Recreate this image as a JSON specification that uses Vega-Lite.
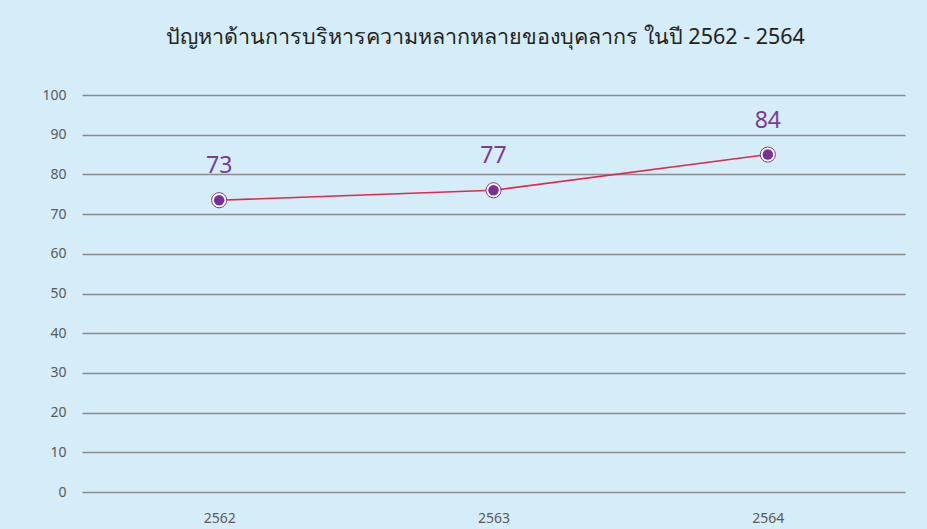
{
  "$schema": "https://vega.github.io/schema/vega-lite/v6.json",
  "autosize": "none",
  "width": 823,
  "height": 397,
  "padding": {"left": 82, "top": 95, "right": 22, "bottom": 37},
  "background": "#d5ecf9",
  "title": {
    "text": "ปัญหาด้านการบริหารความหลากหลายของบุคลากร ในปี 2562 - 2564",
    "fontSize": 21.5,
    "font": "Noto Sans",
    "fontWeight": "normal",
    "color": "#222222",
    "offset": 40,
    "anchor": "middle",
    "dx": -8
  },
  "config": {"view": {"stroke": null}},
  "data": {"values": [
    {"year": "2562", "value": 73.5, "label": "73"},
    {"year": "2563", "value": 76, "label": "77"},
    {"year": "2564", "value": 85, "label": "84"}
  ]},
  "encoding": {
    "x": {"field": "year", "type": "ordinal", "scale": {"type": "point", "padding": 0.5},
      "axis": {"title": null, "labelAngle": 0, "domain": false, "ticks": false, "labelFontSize": 14, "labelColor": "#5a5a5a", "labelFont": "Noto Sans", "labelPadding": 19}},
    "y": {"field": "value", "type": "quantitative", "scale": {"domain": [0, 100]},
      "axis": {"title": null, "values": [0,10,20,30,40,50,60,70,80,90,100], "domain": false, "ticks": false, "labelFontSize": 14, "labelColor": "#5a5a5a", "labelFont": "Noto Sans", "labelPadding": 16, "gridColor": "#8a8a8a", "gridWidth": 1.6, "gridOpacity": 1}}
  },
  "layer": [
    {"mark": {"type": "line", "color": "#e8264a", "strokeWidth": 1.6}},
    {"mark": {"type": "point", "filled": true, "fill": "#ffffff", "stroke": "#7a3a9a", "strokeWidth": 1, "size": 230, "opacity": 1}},
    {"mark": {"type": "point", "filled": true, "color": "#7b2f98", "size": 110, "opacity": 1}},
    {"mark": {"type": "text", "dy": -34, "fontSize": 23, "font": "Noto Sans", "color": "#7a3a9a"}, "encoding": {"text": {"field": "label"}}}
  ]
}
